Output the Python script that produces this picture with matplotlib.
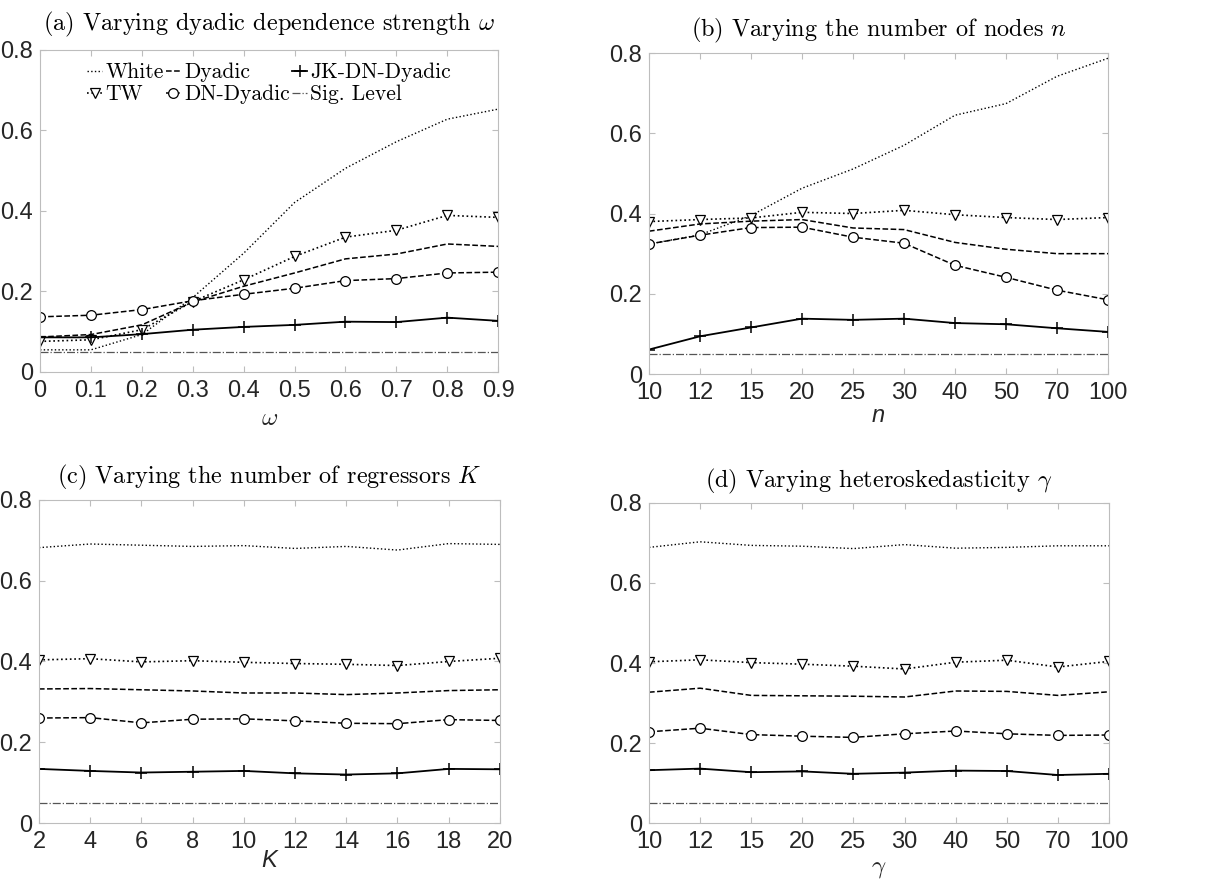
import matplotlib
matplotlib.use('Agg')
import matplotlib.pyplot as plt
import numpy as np

plt.rcParams['mathtext.fontset'] = 'cm'
plt.rcParams['font.family'] = ['Liberation Sans', 'DejaVu Sans']

# panel (a): dyadic dependence strength omega
omega = [0, 0.1, 0.2, 0.3, 0.4, 0.5, 0.6, 0.7, 0.8, 0.9]
a_white = [0.055, 0.055, 0.093, 0.185, 0.295, 0.421, 0.506, 0.572, 0.628, 0.653]
a_tw = [0.076, 0.080, 0.105, 0.175, 0.229, 0.287, 0.335, 0.352, 0.389, 0.384]
a_dyadic = [0.087, 0.093, 0.117, 0.174, 0.213, 0.246, 0.281, 0.293, 0.318, 0.312]
a_dn = [0.137, 0.141, 0.155, 0.177, 0.193, 0.208, 0.227, 0.232, 0.246, 0.248]
a_jk = [0.086, 0.086, 0.094, 0.105, 0.112, 0.117, 0.125, 0.124, 0.135, 0.127]

# panel (b): number of nodes n
n_labels = ['10', '12', '15', '20', '25', '30', '40', '50', '70', '100']
b_white = [0.324, 0.347, 0.395, 0.463, 0.511, 0.570, 0.645, 0.674, 0.742, 0.787]
b_tw = [0.380, 0.385, 0.389, 0.403, 0.400, 0.408, 0.397, 0.390, 0.385, 0.390]
b_dyadic = [0.356, 0.374, 0.381, 0.385, 0.364, 0.360, 0.328, 0.311, 0.300, 0.300]
b_dn = [0.324, 0.346, 0.365, 0.366, 0.341, 0.326, 0.271, 0.241, 0.209, 0.185]
b_jk = [0.061, 0.094, 0.116, 0.138, 0.135, 0.138, 0.127, 0.124, 0.114, 0.105]

# panel (c): number of regressors K
K = [2, 4, 6, 8, 10, 12, 14, 16, 18, 20]
c_white = [0.682, 0.691, 0.688, 0.685, 0.687, 0.680, 0.685, 0.676, 0.692, 0.690]
c_tw = [0.404, 0.407, 0.399, 0.402, 0.398, 0.395, 0.393, 0.390, 0.400, 0.408]
c_dyadic = [0.332, 0.333, 0.330, 0.327, 0.322, 0.322, 0.318, 0.322, 0.328, 0.330]
c_dn = [0.260, 0.261, 0.248, 0.257, 0.258, 0.253, 0.247, 0.246, 0.256, 0.254]
c_jk = [0.134, 0.129, 0.125, 0.127, 0.129, 0.123, 0.120, 0.123, 0.134, 0.133]

# panel (d): heteroskedasticity gamma
g_labels = ['10', '12', '15', '20', '25', '30', '40', '50', '70', '100']
d_white = [0.689, 0.703, 0.694, 0.692, 0.686, 0.696, 0.687, 0.689, 0.693, 0.693]
d_tw = [0.403, 0.408, 0.401, 0.397, 0.392, 0.385, 0.402, 0.407, 0.390, 0.404]
d_dyadic = [0.327, 0.337, 0.319, 0.318, 0.317, 0.315, 0.330, 0.329, 0.319, 0.328]
d_dn = [0.228, 0.237, 0.221, 0.217, 0.214, 0.223, 0.230, 0.223, 0.219, 0.220]
d_jk = [0.132, 0.136, 0.127, 0.129, 0.123, 0.126, 0.131, 0.130, 0.120, 0.123]

sig_level = 0.05

title_font = {'family': 'cmr10', 'size': 17.5}
axis_gray = '#bdbdbd'
text_gray = '#262626'


def draw_panel(ax, x, white, tw, dyadic, dn, jk, xticklabels, title, xlabel, xlabel_font, title_pad):
    ax.plot(x, white, ':', color='k', lw=1.0, label='White')
    ax.plot(x, tw, ':', color='k', lw=1.2, marker='v', ms=7, mfc='white', mec='k', mew=0.9, label='TW')
    ax.plot(x, dyadic, '--', color='k', lw=1.1, label='Dyadic')
    ax.plot(x, dn, '--', color='k', lw=1.1, marker='o', ms=7, mfc='white', mec='k', mew=0.9, label='DN-Dyadic')
    ax.plot(x, jk, '-', color='k', lw=1.3, marker='+', ms=9, mew=1.1, label='JK-DN-Dyadic')
    ax.plot([x[0], x[-1]], [sig_level, sig_level], '-.', color='#555555', lw=0.9, label='Sig. Level')
    ax.set_xlim(x[0], x[-1])
    ax.set_ylim(0, 0.8)
    ax.set_xticks(x)
    ax.set_xticklabels(xticklabels)
    ax.set_yticks([0, 0.2, 0.4, 0.6, 0.8])
    ax.set_yticklabels(['0', '0.2', '0.4', '0.6', '0.8'])
    ax.tick_params(direction='in', top=True, right=True, length=4, color=axis_gray,
                   labelsize=17, labelcolor=text_gray)
    ax.tick_params(axis='x', pad=6)
    ax.tick_params(axis='y', pad=5)
    for s in ax.spines.values():
        s.set_color(axis_gray)
        s.set_linewidth(0.8)
    ax.set_title(title, fontdict=title_font, pad=title_pad)
    ax.set_xlabel(xlabel, **xlabel_font)


fig = plt.figure(figsize=(12.25, 8.84), dpi=100)
ax_a = fig.add_axes([0.0327, 0.5792, 0.374, 0.3643])
ax_b = fig.add_axes([0.5298, 0.5769, 0.3747, 0.3631])
ax_c = fig.add_axes([0.0318, 0.069, 0.3763, 0.3654])
ax_d = fig.add_axes([0.5298, 0.069, 0.3755, 0.362])

idx = np.arange(len(n_labels))

draw_panel(ax_a, omega, a_white, a_tw, a_dyadic, a_dn, a_jk,
           ['0', '0.1', '0.2', '0.3', '0.4', '0.5', '0.6', '0.7', '0.8', '0.9'],
           r'(a) Varying dyadic dependence strength $\omega$', r'$\omega$',
           {'fontsize': 18, 'color': text_gray, 'labelpad': 3}, 14)
draw_panel(ax_b, idx, b_white, b_tw, b_dyadic, b_dn, b_jk, n_labels,
           r'(b) Varying the number of nodes $n$', 'n',
           {'fontsize': 17, 'style': 'italic', 'color': text_gray, 'labelpad': 0}, 12)
draw_panel(ax_c, K, c_white, c_tw, c_dyadic, c_dn, c_jk, [str(k) for k in K],
           r'(c) Varying the number of regressors $K$', 'K',
           {'fontsize': 17, 'style': 'italic', 'color': text_gray, 'labelpad': -3}, 12)
draw_panel(ax_d, idx, d_white, d_tw, d_dyadic, d_dn, d_jk, g_labels,
           r'(d) Varying heteroskedasticity $\gamma$', r'$\gamma$',
           {'fontsize': 18, 'color': text_gray, 'labelpad': 2}, 11)

# legend in panel (a), rows: White, Dyadic, JK-DN-Dyadic / TW, DN-Dyadic, Sig. Level
handles, labels = ax_a.get_legend_handles_labels()
ax_a.legend(handles, labels,
            loc='upper center', bbox_to_anchor=(0.5, 1.0), ncol=3, frameon=False,
            prop={'family': 'cmr10', 'size': 15.5}, handlelength=0.7, handletextpad=0.15,
            columnspacing=0.1, labelspacing=0.1, borderaxespad=0.2)

plt.savefig('out.png', dpi=100)
plt.close(fig)
